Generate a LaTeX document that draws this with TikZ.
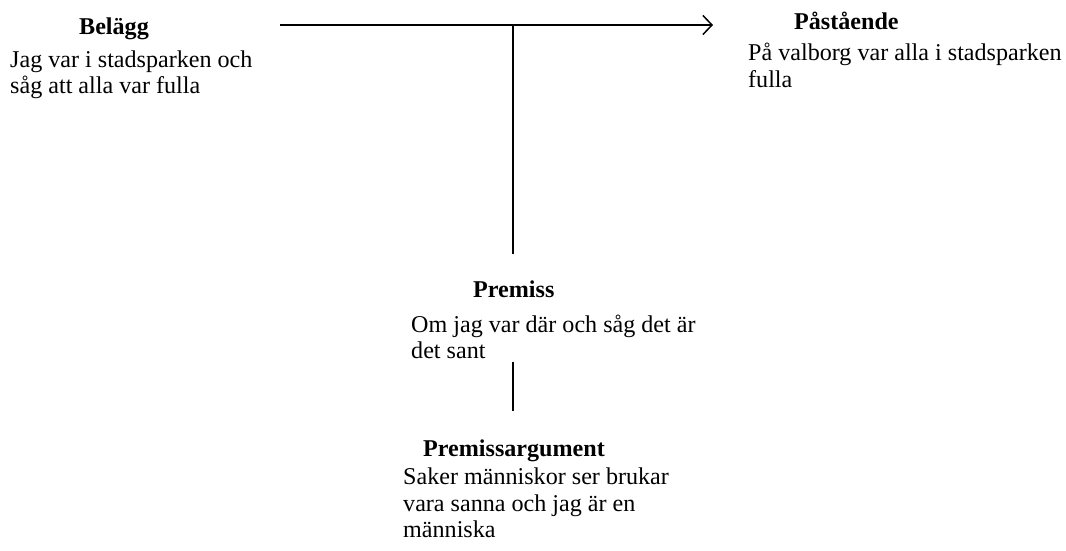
\documentclass[tikz,border=0pt]{standalone}
\usepackage{fontspec}
\setmainfont{Liberation Serif}
\usetikzlibrary{arrows.meta}
\begin{document}
\begin{tikzpicture}[x=1pt,y=-1pt,
  txt/.style={anchor=base west,inner sep=0pt,font=\fontsize{24.1}{27}\selectfont},
  head/.style={txt,font=\fontsize{24.1}{27}\selectfont\bfseries},
  conn/.style={line width=1.5pt,line cap=butt}]
\useasboundingbox (0,0) rectangle (1066,551);

% Belägg
\node[head] (belagg) at (79,35) {Belägg};
\node[txt] (belagg1) at (10,67) {Jag var i stadsparken och};
\node[txt] (belagg2) at (10,93) {såg att alla var fulla};

% Påstående
\node[head] (pastaende) at (794,30) {Påstående};
\node[txt] (pastaende1) at (748,61) {På valborg var alla i stadsparken};
\node[txt] (pastaende2) at (748,88) {fulla};

% Premiss
\node[head] (premiss) at (473,297) {Premiss};
\node[txt] (premiss1) at (411,332) {Om jag var där och såg det är};
\node[txt] (premiss2) at (411,358) {det sant};

% Premissargument
\node[head] (parg) at (423,456) {Premissargument};
\node[txt] (parg1) at (403,484) {Saker människor ser brukar};
\node[txt] (parg2) at (403,511) {vara sanna och jag är en};
\node[txt] (parg3) at (403,537) {människa};

% connector ends
\coordinate (from) at (280,25);
\coordinate (to) at (713,25);
\coordinate (join) at (513,25);
\coordinate (premtop) at (513,254);
\coordinate (argtop) at (513,362);
\coordinate (argbot) at (513,411);

\draw[conn,-{Straight Barb[length=9pt,width=19pt,line width=1.5pt]}] (from) -- (to);
\draw[conn] (join) -- (premtop);
\draw[conn] (argtop) -- (argbot);
\end{tikzpicture}
\end{document}
